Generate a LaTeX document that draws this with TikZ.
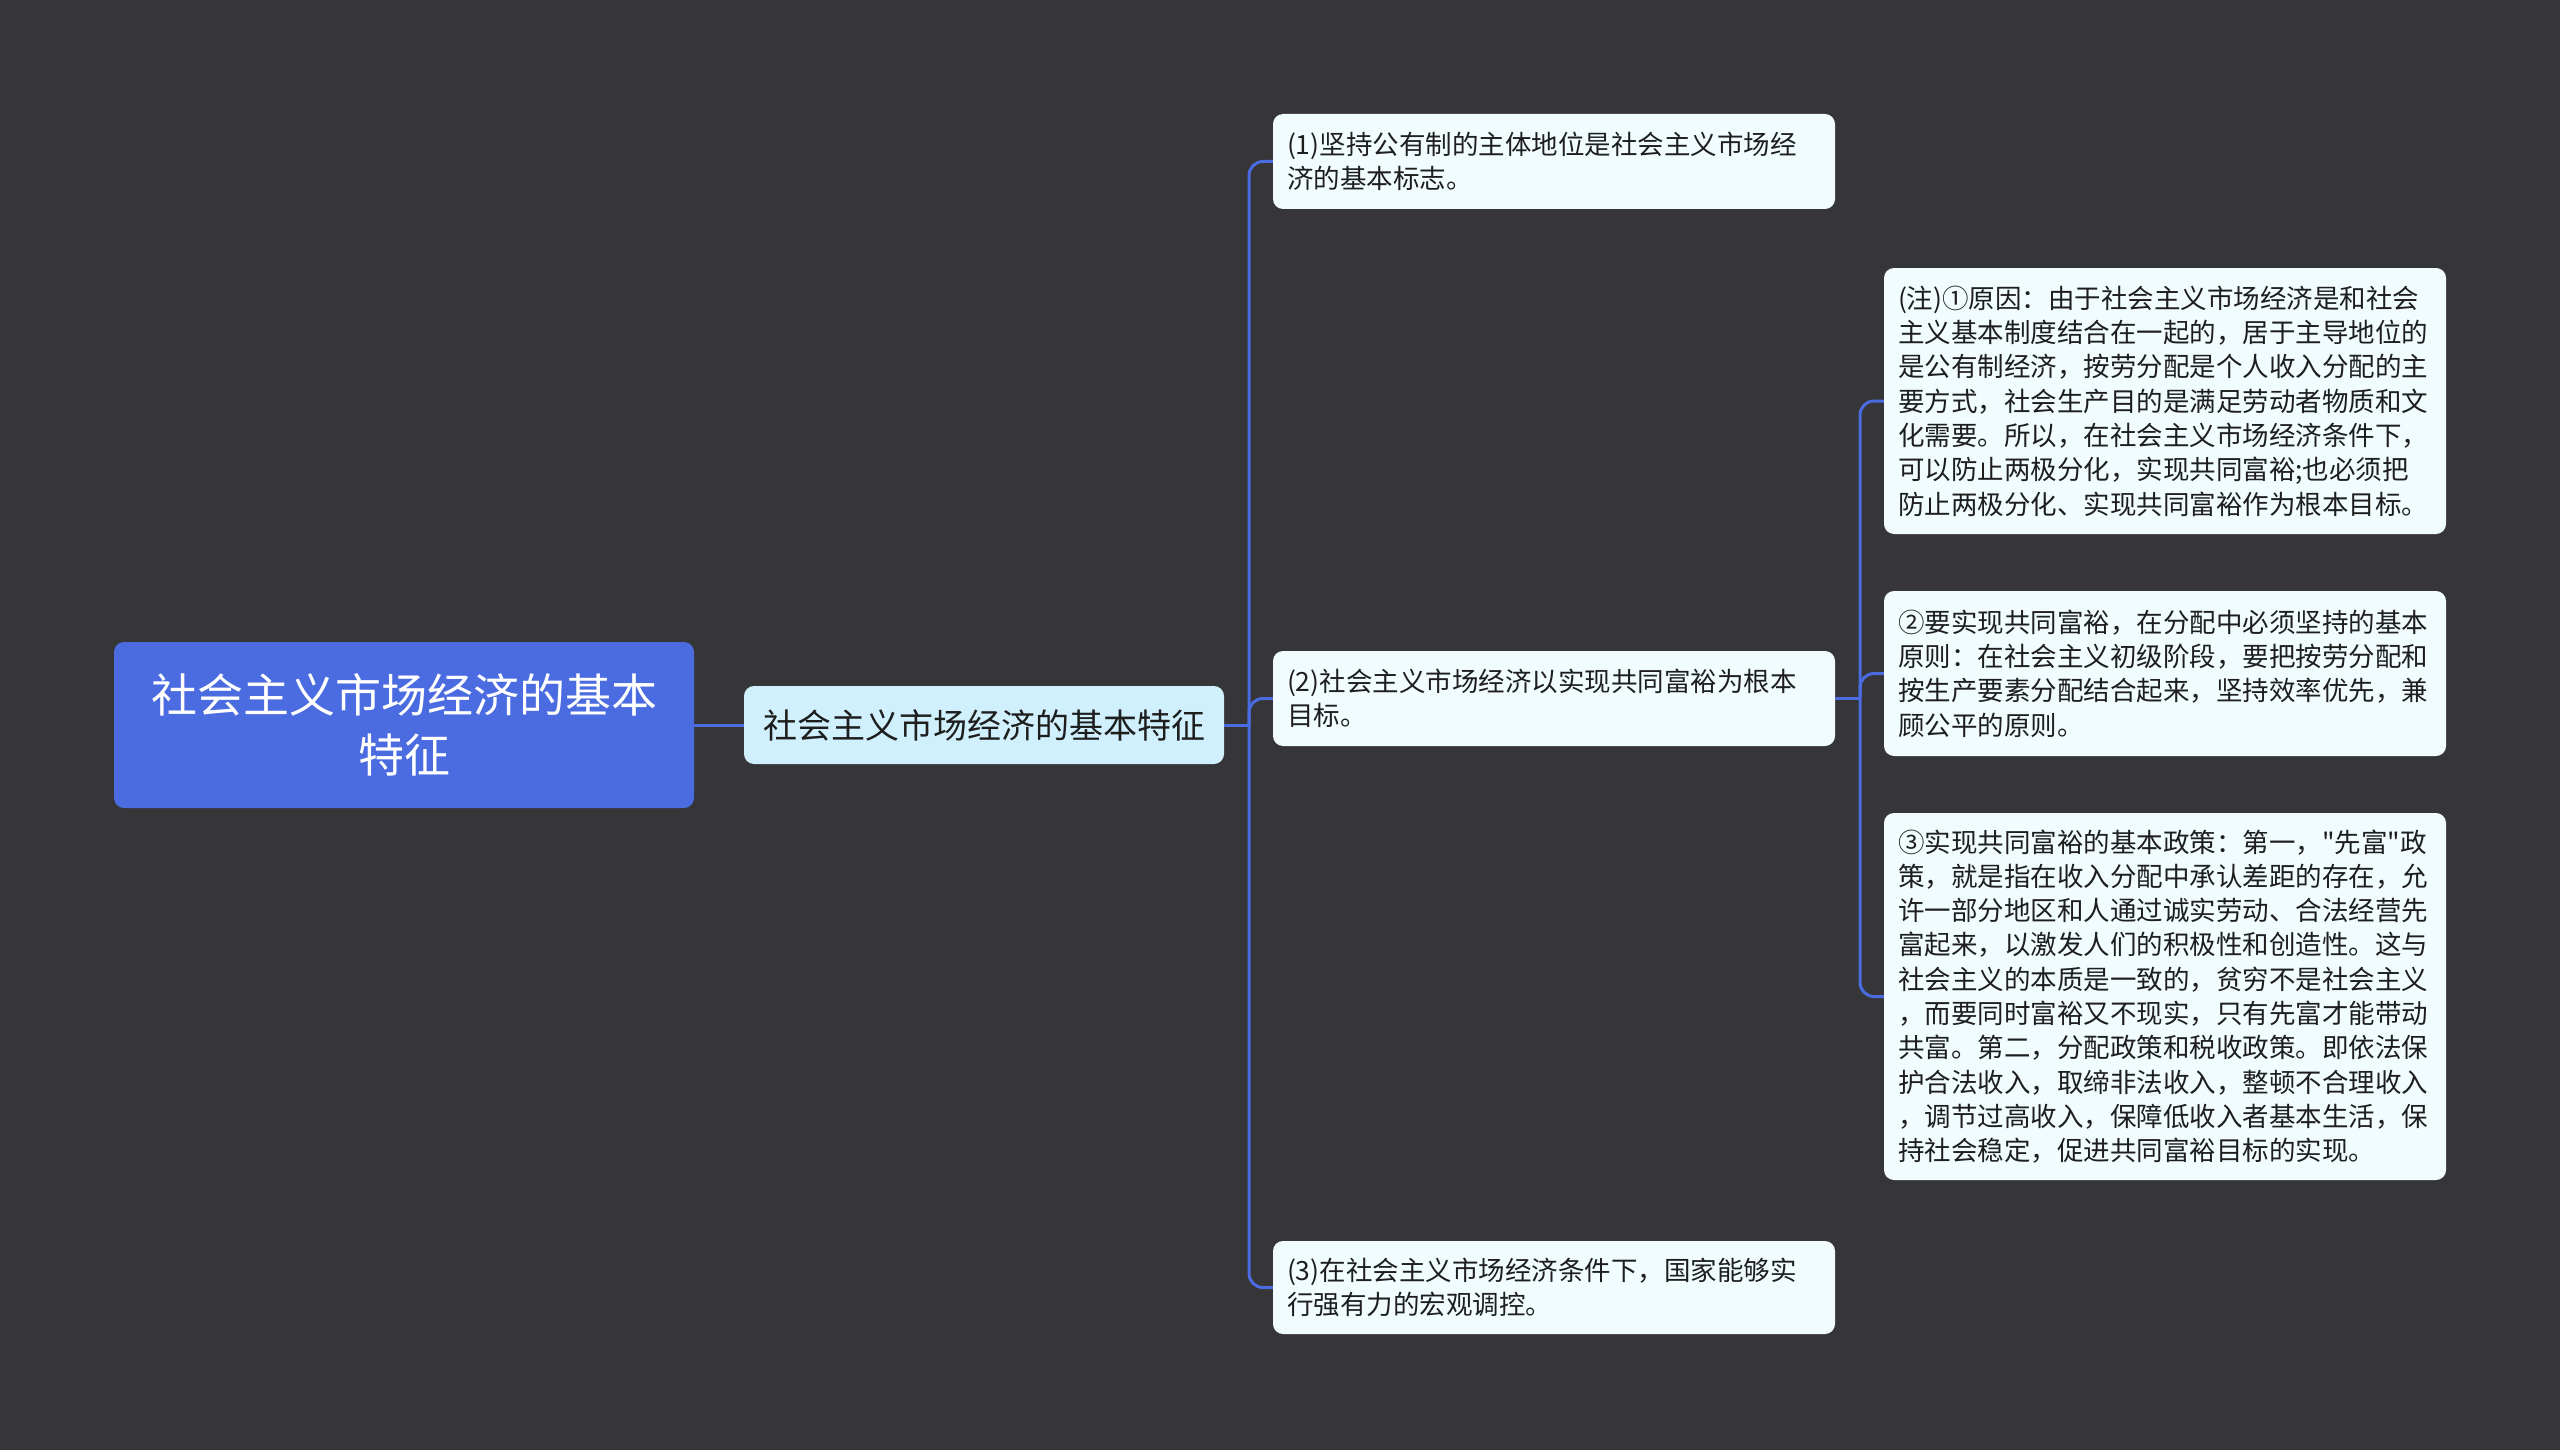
\documentclass[tikz,border=0pt]{standalone}
\usepackage{fontspec}
\newfontfamily\cjk{Noto Sans CJK SC}
\definecolor{bgc}{HTML}{363537}
\definecolor{rootc}{HTML}{4B6CE0}
\definecolor{linec}{HTML}{4B6CE0}
\definecolor{subc}{HTML}{CFF0FC}
\definecolor{leafc}{HTML}{F0FCFE}
\definecolor{textc}{HTML}{1E1E1E}
\begin{document}
\begin{tikzpicture}[x=1pt,y=-1pt,
  conn/.style={draw=linec, line width=3pt, rounded corners=14pt},
  rootbox/.style={fill=rootc, rounded corners=10pt, text=white, align=center,
    font=\cjk\fontsize{46}{60}\selectfont, minimum width=580pt, minimum height=166pt, inner sep=0pt},
  subbox/.style={fill=subc, rounded corners=10pt, text=textc,
    font=\cjk\fontsize{34}{42}\selectfont, minimum width=480pt, minimum height=78pt, inner sep=0pt},
  leaf/.style={fill=leafc, rounded corners=10pt, text=textc, align=left,
    font=\cjk\fontsize{26.5}{34.3}\selectfont, inner xsep=14pt, inner ysep=0pt, text width=534pt},
]
\fill[bgc] (0,0) rectangle (2560,1450);
\useasboundingbox (0,0) rectangle (2560,1450);

\node[rootbox] (root) at (404,725) {社会主义市场经济的基本\\特征};
\node[subbox] (sub) at (984,725) {社会主义市场经济的基本特征};

\node[leaf, minimum height=95pt] (c1) at (1554,161.5) {(1)坚持公有制的主体地位是社会主义市场经\\济的基本标志。};
\node[leaf, minimum height=95pt] (c2) at (1554,698.5) {(2)社会主义市场经济以实现共同富裕为根本\\目标。};
\node[leaf, minimum height=93pt] (c3) at (1554,1287.5) {(3)在社会主义市场经济条件下，国家能够实\\行强有力的宏观调控。};

\node[leaf, minimum height=266pt] (d1) at (2165,401) {(注)①原因：由于社会主义市场经济是和社会\\主义基本制度结合在一起的，居于主导地位的\\是公有制经济，按劳分配是个人收入分配的主\\要方式，社会生产目的是满足劳动者物质和文\\化需要。所以，在社会主义市场经济条件下，\\可以防止两极分化，实现共同富裕;也必须把\\防止两极分化、实现共同富裕作为根本目标。};
\node[leaf, minimum height=165pt] (d2) at (2165,673.5) {②要实现共同富裕，在分配中必须坚持的基本\\原则：在社会主义初级阶段，要把按劳分配和\\按生产要素分配结合起来，坚持效率优先，兼\\顾公平的原则。};
\node[leaf, minimum height=367pt] (d3) at (2165,996.5) {③实现共同富裕的基本政策：第一，"先富"政\\策，就是指在收入分配中承认差距的存在，允\\许一部分地区和人通过诚实劳动、合法经营先\\富起来，以激发人们的积极性和创造性。这与\\社会主义的本质是一致的，贫穷不是社会主义\\，而要同时富裕又不现实，只有先富才能带动\\共富。第二，分配政策和税收政策。即依法保\\护合法收入，取缔非法收入，整顿不合理收入\\，调节过高收入，保障低收入者基本生活，保\\持社会稳定，促进共同富裕目标的实现。};

\coordinate (j1) at (1249,725);
\coordinate (j2) at (1860,698.5);

\draw[conn] (root.east) -- (sub.west);
\draw[conn] (sub.east) -- (j1);
\draw[conn] (j1) |- (c1.west);
\draw[conn] (j1) |- (c2.west);
\draw[conn] (j1) |- (c3.west);
\draw[conn] (c2.east) -- (j2);
\draw[conn] (j2) |- (d1.west);
\draw[conn] (j2) |- (d2.west);
\draw[conn] (j2) |- (d3.west);
\end{tikzpicture}
\end{document}
